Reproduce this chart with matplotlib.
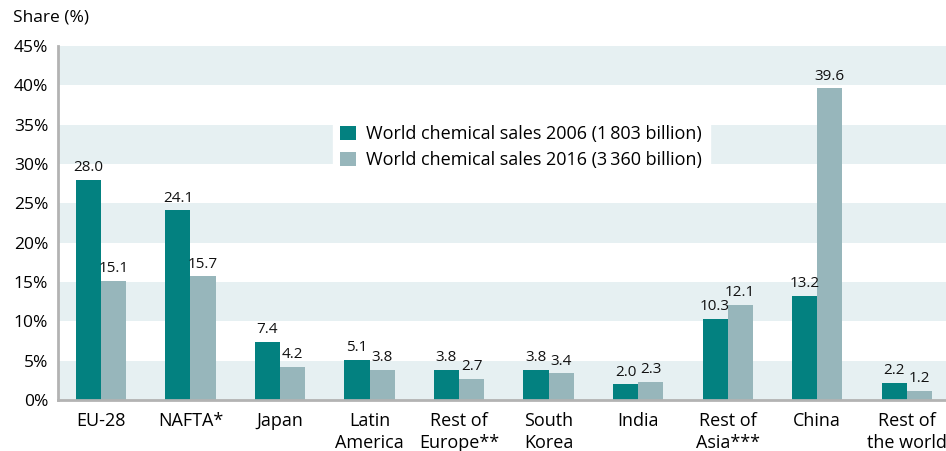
import numpy as np
import matplotlib
matplotlib.use("Agg")
import matplotlib.pyplot as plt

plt.rcParams['font.family'] = ['Open Sans', 'DejaVu Sans']

regions = ["EU-28", "NAFTA*", "Japan", "Latin\nAmerica", "Rest of\nEurope**",
           "South\nKorea", "India", "Rest of\nAsia***", "China", "Rest of\nthe world"]
sales_2006 = [28.0, 24.1, 7.4, 5.1, 3.8, 3.8, 2.0, 10.3, 13.2, 2.2]
sales_2016 = [15.1, 15.7, 4.2, 3.8, 2.7, 3.4, 2.3, 12.1, 39.6, 1.2]
labels = ["World chemical sales 2006 (1\u2009803 billion)",
          "World chemical sales 2016 (3\u2009360 billion)"]

teal = "#038180"
grey = "#97b6bb"
band = "#e6f0f2"

fig = plt.figure(figsize=(9.46, 4.51), dpi=100)
ax = fig.add_axes([58 / 946, 1 - 400 / 451, 888 / 946, 354 / 451])

x = np.arange(len(regions))
w = 0.28
b1 = ax.bar(x - w / 2, sales_2006, w, color=teal, label=labels[0], zorder=3)
b2 = ax.bar(x + w / 2, sales_2016, w, color=grey, label=labels[1], zorder=3)

for bars, vals in ((b1, sales_2006), (b2, sales_2016)):
    for r, v in zip(bars, vals):
        ax.text(r.get_x() + r.get_width() / 2, v + 0.6, f"{v:.1f}",
                ha="center", va="bottom", fontsize=11, color="#111111")

# shaded horizontal bands
for lo in range(0, 45, 10):
    ax.axhspan(lo, lo + 5, color=band, zorder=0, lw=0)

ax.set_xlim(-0.48, len(regions) - 1 + 0.44)
ax.set_ylim(0, 45)
ax.set_yticks(range(0, 46, 5))
ax.set_yticklabels([f"{t}%" for t in range(0, 46, 5)], fontsize=12.5)
ax.set_xticks(x)
ax.set_xticklabels(regions, fontsize=13, linespacing=1.25)
ax.tick_params(length=0, pad=7)
ax.tick_params(axis='x', pad=9)

for s in ("top", "right"):
    ax.spines[s].set_visible(False)
for s in ("left", "bottom"):
    ax.spines[s].set_color("#b3b3b3")
    ax.spines[s].set_linewidth(2)
    ax.spines[s].set_zorder(4)

fig.text(13 / 946, 1 - 18 / 451, "Share (%)", fontsize=12.5, va="center", ha="left")

leg = ax.legend(loc="upper left", bbox_to_anchor=((324 - 58) / 888, 1 - (109 - 46) / 354),
                frameon=True, fontsize=13, handlelength=0.85, handleheight=0.85,
                handletextpad=0.6, labelspacing=0.45, borderpad=0.4, fancybox=False)
leg.get_frame().set_facecolor("white")
leg.get_frame().set_edgecolor("white")
leg.get_frame().set_alpha(1)

fig.savefig("out.png", dpi=100)
